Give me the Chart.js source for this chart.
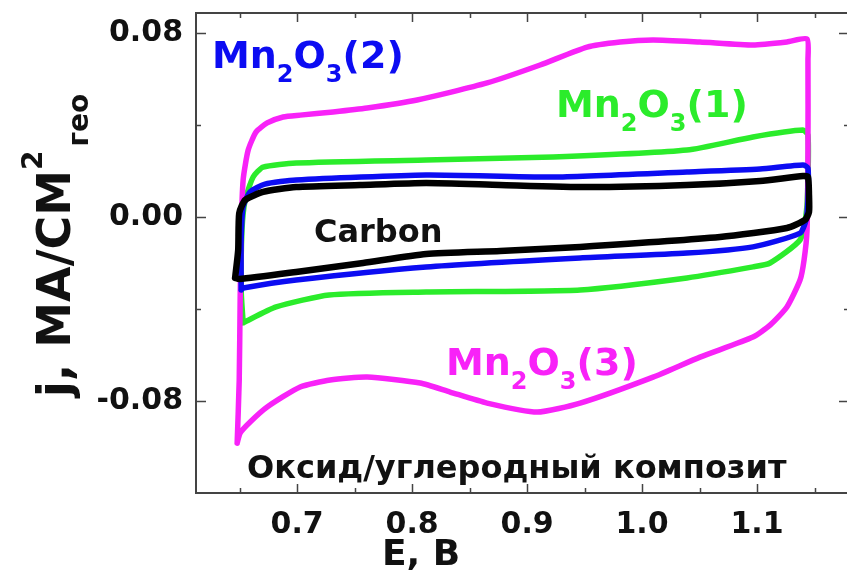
<!DOCTYPE html>
<html>
<head>
<meta charset="utf-8">
<script src="https://cdn.jsdelivr.net/npm/chart.js@4.4.1/dist/chart.umd.min.js"></script>
<style>
  html, body { margin: 0; padding: 0; background: #fff; overflow: hidden; }
  #wrap { width: 852px; height: 580px; position: relative; }
</style>
</head>
<body>
<div id="wrap"><canvas id="cv"></canvas></div>
<script>
// potential E (V) and current density j (mA/cm2) per curve
const carbonE = [0.646, 0.6487, 0.6496, 0.6548, 0.6704, 0.6991, 0.7548, 0.8122, 0.8765, 0.9522, 1.0391, 1.1026, 1.14, 1.1443,
  1.1452, 1.1452, 1.1417, 1.126, 1.0678, 0.9461, 0.8765, 0.8122, 0.7574, 0.6991, 0.6496, 0.646];
const carbonJ = [-0.0265, -0.0143, 0.0017, 0.0074, 0.0109, 0.013, 0.0139, 0.0148, 0.0139, 0.013, 0.0139, 0.0157, 0.0178, 0.0174,
  0.0096, 0.0022, -0.0013, -0.0048, -0.0087, -0.013, -0.0148, -0.0161, -0.02, -0.0239, -0.027, -0.0265];

const mn2E = [0.6513, 0.6513, 0.653, 0.659, 0.672, 0.6991, 0.8122, 0.9226, 1.0391, 1.1026, 1.14,
  1.1443, 1.1443, 1.1426, 1.1374, 1.0965, 1.039, 0.9461, 0.8122, 0.6991, 0.653, 0.6513];
const mn2J = [-0.0317, -0.01, 0.0043, 0.0109, 0.0143, 0.0161, 0.0183, 0.0174, 0.0196, 0.0209, 0.0226,
  0.0213, 0.0074, -0.0013, -0.007, -0.013, -0.0157, -0.0178, -0.0217, -0.0274, -0.0309, -0.0317];

const mn1E = [0.653, 0.6513, 0.652, 0.6548, 0.6617, 0.6704, 0.6991, 0.8122, 0.9226, 1.0391, 1.0965, 1.14,
  1.1443, 1.1443, 1.1426, 1.1374, 1.1113, 1.0965, 1.039, 0.9461, 0.8122, 0.7278, 0.6817, 0.653];
const mn1J = [-0.046, -0.0317, -0.0057, 0.0074, 0.0174, 0.0217, 0.0235, 0.0248, 0.0261, 0.0291, 0.0348, 0.0378,
  0.0357, 0.0161, 0.0009, -0.01, -0.02, -0.0217, -0.0265, -0.0317, -0.0326, -0.0339, -0.0391, -0.046];

const mn3E = [0.6478, 0.6496, 0.6504, 0.6513, 0.653, 0.6574, 0.6643, 0.6739, 0.6878, 0.7026, 0.7313, 0.7609, 0.8043, 0.8652,
  0.9113, 0.9522, 0.9809, 1.0096, 1.0504, 1.0965, 1.126, 1.1435,
  1.1443, 1.1443, 1.1435, 1.1409, 1.1374, 1.126, 1.1113, 1.0965, 1.0504, 1.0096, 0.9461, 0.9087, 0.8652, 0.833, 0.807,
  0.7609, 0.7287, 0.7026, 0.6739, 0.6591, 0.6504, 0.6478];
const mn3J = [-0.0983, -0.0709, -0.0361, -0.0057, 0.0161, 0.0291, 0.037, 0.0409, 0.0435, 0.0443, 0.0457, 0.0474, 0.0509, 0.0583,
  0.0661, 0.0739, 0.0761, 0.077, 0.0761, 0.0748, 0.0761, 0.0774,
  0.0683, 0.0291, -0.0057, -0.0187, -0.0274, -0.0391, -0.047, -0.0522, -0.0609, -0.0696, -0.0809, -0.0848, -0.0809, -0.0761, -0.0722,
  -0.0696, -0.0709, -0.0739, -0.0826, -0.0891, -0.0939, -0.0983];

const xTicks = [0.7, 0.8, 0.9, 1.0, 1.1];
const xMinor = [0.65, 0.75, 0.85, 0.95, 1.05, 1.15];
const yTicks = [-0.08, 0.0, 0.08];
const yMinor = [-0.04, 0.04];

const FONT = "'DejaVu Sans'";
const AXIS = '#444';
const MAGENTA = '#f822f8', GREEN = '#2bec2b', BLUE = '#0c0cf2';

function pts(xs, ys) {
  return xs.map((x, i) => ({ x: x, y: ys[i] }));
}

function drawFormula(ctx, parts, x, base, size, color) {
  ctx.fillStyle = color;
  ctx.textBaseline = 'alphabetic';
  ctx.textAlign = 'left';
  parts.forEach(p => {
    const sub = p[1];
    const s = sub ? Math.round(size * 0.62) : size;
    ctx.font = 'bold ' + s + 'px ' + FONT;
    ctx.fillText(p[0], x, sub ? base + size * 0.36 : base);
    x += ctx.measureText(p[0]).width;
  });
}

const decor = {
  id: 'decor',
  afterDatasetsDraw(chart) {
    const ctx = chart.ctx;
    const a = chart.chartArea;
    const xs = chart.scales.x, ys = chart.scales.y;
    ctx.save();
    // top frame line
    ctx.strokeStyle = AXIS;
    ctx.lineWidth = 2;
    ctx.beginPath();
    ctx.moveTo(a.left, a.top);
    ctx.lineTo(a.right, a.top);
    ctx.stroke();
    // inward ticks
    ctx.lineWidth = 1.5;
    ctx.beginPath();
    xTicks.concat(xMinor).forEach(v => {
      const len = xMinor.includes(v) ? 5 : 9;
      const px = Math.round(xs.getPixelForValue(v)) + 0.5;
      ctx.moveTo(px, a.bottom); ctx.lineTo(px, a.bottom - len);
      ctx.moveTo(px, a.top); ctx.lineTo(px, a.top + len);
    });
    yTicks.concat(yMinor).forEach(v => {
      const len = yMinor.includes(v) ? 5 : 10;
      const py = Math.round(ys.getPixelForValue(v)) + 0.5;
      ctx.moveTo(a.left, py); ctx.lineTo(a.left + len, py);
      ctx.moveTo(a.right, py); ctx.lineTo(a.right - len, py);
    });
    ctx.stroke();

    // in-plot labels
    drawFormula(ctx, [['Mn', 0], ['2', 1], ['O', 0], ['3', 1], ['(2)', 0]], 212, 68, 38, BLUE);
    drawFormula(ctx, [['Mn', 0], ['2', 1], ['O', 0], ['3', 1], ['(1)', 0]], 556, 117, 38, GREEN);
    drawFormula(ctx, [['Mn', 0], ['2', 1], ['O', 0], ['3', 1], ['(3)', 0]], 446, 375, 38, MAGENTA);
    drawFormula(ctx, [['Carbon', 0]], 314, 242, 32, '#111');
    drawFormula(ctx, [['Оксид/углеродный композит', 0]], 247, 478, 32, '#111');

    // axis titles
    ctx.fillStyle = '#111';
    ctx.font = 'bold 36px ' + FONT;
    ctx.textAlign = 'center';
    ctx.fillText('E, В', 421, 565);

    ctx.translate(70, 397);
    ctx.rotate(-Math.PI / 2);
    ctx.textAlign = 'left';
    ctx.font = 'bold 46px ' + FONT;
    const main = 'j, МА/СМ';
    ctx.fillText(main, 0, 0);
    let w = ctx.measureText(main).width;
    ctx.font = 'bold 28px ' + FONT;
    ctx.fillText('2', w, -28);
    w += ctx.measureText('2').width + 4;
    ctx.fillText('гео', w, 18);
    ctx.restore();
  }
};

new Chart(document.getElementById('cv'), {
  type: 'scatter',
  data: {
    datasets: [
      { label: 'Carbon', data: pts(carbonE, carbonJ), borderColor: '#000', borderWidth: 6.5 },
      { label: 'Mn2O3(2)', data: pts(mn2E, mn2J), borderColor: BLUE, borderWidth: 5.5 },
      { label: 'Mn2O3(3)', data: pts(mn3E, mn3J), borderColor: MAGENTA, borderWidth: 5.5 },
      { label: 'Mn2O3(1)', data: pts(mn1E, mn1J), borderColor: GREEN, borderWidth: 5.5 }
    ].map(d => Object.assign(d, { showLine: true, pointRadius: 0, tension: 0.2, fill: false, borderCapStyle: 'round', borderJoinStyle: 'round' }))
  },
  options: {
    responsive: true,
    maintainAspectRatio: false,
    animation: false,
    layout: { padding: { top: 13, right: 3, left: 0, bottom: 0 } },
    plugins: { legend: { display: false }, tooltip: { enabled: false } },
    scales: {
      x: {
        type: 'linear', min: 0.612, max: 1.18,
        grid: { display: false, drawTicks: false },
        border: { display: true, color: AXIS, width: 2 },
        afterBuildTicks: s => { s.ticks = xTicks.map(v => ({ value: v })); },
        afterFit: s => { s.height = 87; s.paddingLeft = 0; s.paddingRight = 0; },
        ticks: {
          padding: 14, color: '#111',
          font: { family: FONT, weight: 'bold', size: 30 },
          callback: v => v.toFixed(1)
        }
      },
      y: {
        type: 'linear', min: -0.12, max: 0.0887,
        grid: { display: false, drawTicks: false },
        border: { display: true, color: AXIS, width: 2 },
        afterBuildTicks: s => { s.ticks = yTicks.map(v => ({ value: v })); },
        afterFit: s => { s.width = 196; s.paddingTop = 0; s.paddingBottom = 0; },
        ticks: {
          padding: 13, color: '#111',
          font: { family: FONT, weight: 'bold', size: 30 },
          callback: v => v.toFixed(2)
        }
      }
    }
  },
  plugins: [decor]
});
</script>
</body>
</html>
